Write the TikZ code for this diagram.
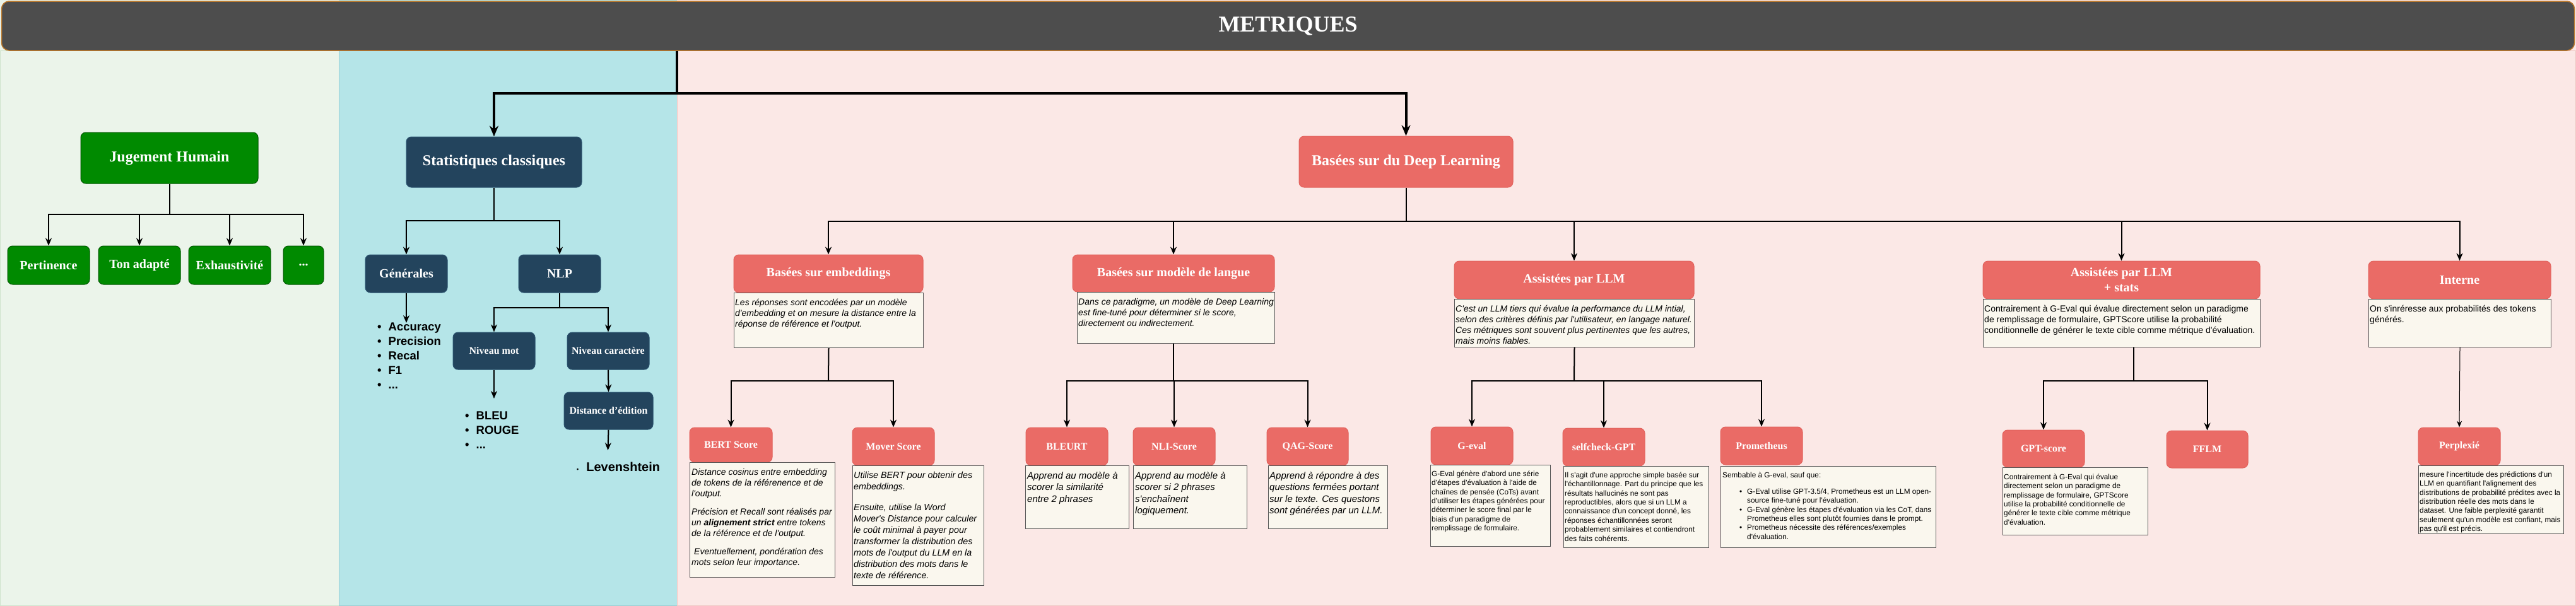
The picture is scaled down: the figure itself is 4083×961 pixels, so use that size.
\documentclass[tikz,border=0pt]{standalone}
\usepackage{fontspec}
\setmainfont{Liberation Serif}
\newfontfamily\arialf{Liberation Sans}
\usetikzlibrary{arrows.meta}
\definecolor{hdrgray}{HTML}{4D4D4D}
\definecolor{hdrborder}{HTML}{B7762B}
\definecolor{gpanel}{HTML}{EBF4EA}
\definecolor{gpanelb}{HTML}{CFE3CC}
\definecolor{cpanel}{HTML}{B5E5E8}
\definecolor{cpanelb}{HTML}{9CCFD3}
\definecolor{ppanel}{HTML}{FBE8E6}
\definecolor{ppanelb}{HTML}{F0C8C4}
\definecolor{gfill}{HTML}{008A00}
\definecolor{gdraw}{HTML}{005700}
\definecolor{bfill}{HTML}{23445D}
\definecolor{bdraw}{HTML}{2C5470}
\definecolor{rfill}{HTML}{EA6B66}
\definecolor{rdraw}{HTML}{E2625D}
\definecolor{descfill}{HTML}{FAF7EE}
\definecolor{descdraw}{HTML}{555555}
\tikzset{
 f36/.style={font=\bfseries\fontsize{36}{42}\selectfont},
 f24/.style={font=\bfseries\fontsize{24}{28}\selectfont},
 f20/.style={font=\bfseries\fontsize{20}{24}\selectfont},
 f16/.style={font=\bfseries\fontsize{16}{19}\selectfont},
 box/.style={rectangle, rounded corners=8pt, inner sep=0pt, text=white, line width=1pt, align=center},
 gbox/.style={box, fill=gfill, draw=gdraw, f20},
 bbox/.style={box, fill=bfill, draw=bdraw, f20},
 rbox/.style={box, fill=rfill, draw=rdraw, f20},
 dbox/.style={rectangle, fill=descfill, draw=descdraw, line width=1pt, inner sep=0pt, anchor=north west},
 dtxt/.style={anchor=north west, align=left, inner sep=0pt, text=black},
 di14/.style={dtxt, font=\arialf\itshape\fontsize{14}{17}\selectfont},
 di145/.style={dtxt, font=\arialf\itshape\fontsize{14.3}{18}\selectfont},
 di15/.style={dtxt, font=\arialf\itshape\fontsize{15}{18.5}\selectfont},
 dr14/.style={dtxt, font=\arialf\fontsize{14}{17}\selectfont},
 dr12/.style={dtxt, font=\arialf\fontsize{11.8}{14.4}\selectfont},
 lst/.style={anchor=base west, inner sep=0pt, text=black, font=\arialf\bfseries\fontsize{18.5}{23}\selectfont},
 conn/.style={line width=2pt, draw=black},
 arr/.style={conn, -{Stealth[length=12pt,width=10pt]}},
 mainconn/.style={line width=4pt, draw=black},
 mainarr/.style={mainconn, -{Stealth[length=17pt,width=14pt]}},
 thinarr/.style={line width=1pt, draw=black, -{Stealth[length=10pt,width=8pt]}}
}
\begin{document}
\begin{tikzpicture}[x=1pt,y=-1pt]
\useasboundingbox (0,0) rectangle (4083,961);
% panels
\fill[gpanel] (0,0) rectangle (537,961);
\fill[cpanel] (537,0) rectangle (1073,961);
\fill[ppanel] (1073,0) rectangle (4083,961);
\draw[gpanelb, line width=1pt] (0.5,80) rectangle (537,960.5);
\draw[cpanelb, line width=1pt] (537,80) rectangle (1073,960.5);
\draw[ppanelb, line width=1pt] (1073,80) rectangle (4082.5,960.5);
% header
\node[rectangle, rounded corners=12pt, fill=hdrgray, draw=hdrborder, line width=1.5pt, text=white, f36, minimum width=4078pt, minimum height=78pt, inner sep=0pt] (hdr) at (2041.5,41) {METRIQUES};

% ---------- Jugement humain
\node[gbox, f24, minimum width=281pt, minimum height=81pt] (jh) at (268.5,250.5) {Jugement Humain};
\node[gbox, minimum width=130pt, minimum height=61pt] (pert) at (77,420.5) {Pertinence};
\node[gbox, minimum width=130pt, minimum height=61pt] (ton) at (221,420.5) {Ton adapté};
\node[gbox, minimum width=130pt, minimum height=61pt] (exh) at (364,420.5) {Exhaustivité};
\node[gbox, minimum width=64pt, minimum height=61pt] (etc) at (481,420.5) {...};
\coordinate (jj) at (268.5,340);
\draw[conn] (jh.south) -- (jj);
\draw[arr] (jj) -| (pert.north);
\draw[arr] (jj) -| (ton.north);
\draw[arr] (jj) -| (exh.north);
\draw[arr] (jj) -| (etc.north);

% ---------- Statistiques classiques
\node[bbox, f24, minimum width=278pt, minimum height=80pt] (stats) at (783,257) {Statistiques classiques};
\node[bbox, minimum width=130pt, minimum height=60pt] (gen) at (644,434) {Générales};
\node[bbox, minimum width=130pt, minimum height=60pt] (nlp) at (887,434) {NLP};
\node[bbox, f16, minimum width=130pt, minimum height=59pt] (nmot) at (783,556.5) {Niveau mot};
\node[bbox, f16, minimum width=130pt, minimum height=59pt] (ncar) at (964,556.5) {Niveau caractère};
\node[bbox, f16, minimum width=141pt, minimum height=59pt] (dist) at (964.5,651.5) {Distance d'édition};
\node[lst] (genl) at (598,524) {\begin{tabular}[t]{@{}l@{\hspace{11pt}}l@{}}\textbullet & Accuracy\\ \textbullet & Precision\\ \textbullet & Recal\\ \textbullet & F1\\ \textbullet & ...\end{tabular}};
\node[lst] (motl) at (737,665.5) {\begin{tabular}[t]{@{}l@{\hspace{11pt}}l@{}}\textbullet & BLEU\\ \textbullet & ROUGE\\ \textbullet & ...\end{tabular}};
\node[lst, font=\arialf\bfseries\fontsize{20}{24}\selectfont] (levl) at (914,747) {{\fontsize{9}{9}\selectfont\textbullet}\hspace{12pt}Levenshtein};
\coordinate (sj) at (783,350);
\coordinate (nj) at (887,488);
\coordinate (genend) at (644,512);
\coordinate (motend) at (783,632);
\coordinate (distend) at (963.5,714);
\draw[conn] (stats.south) -- (sj);
\draw[arr] (sj) -| (gen.north);
\draw[arr] (sj) -| (nlp.north);
\draw[arr] (gen.south) -- (genend);
\draw[conn] (nlp.south) -- (nj);
\draw[arr] (nj) -| (nmot.north);
\draw[arr] (nj) -| (ncar.north);
\draw[arr] (nmot.south) -- (motend);
\draw[arr] (ncar.south) -- (dist.north);
\draw[arr] (dist.south) -- (distend);

% ---------- Deep learning
\node[rbox, f24, minimum width=339pt, minimum height=81pt] (dl) at (2228.5,256.5) {Basées sur du Deep Learning};

% embeddings
\node[rbox, minimum width=300pt, minimum height=60pt] (emb) at (1313,434) {Basées sur embeddings};
\node[dbox, minimum width=300pt, minimum height=87pt] (embd) at (1163,464) {};
\node[di14] (embt) at (1165,472) {\strut Les réponses sont encodées par un modèle\\ d'embedding et on mesure la distance entre la\\ réponse de référence et l'output.};
\node[rbox, f16, minimum width=131pt, minimum height=55pt] (bert) at (1158.5,705.5) {BERT Score};
\node[dbox, minimum width=230pt, minimum height=182pt] (bertd) at (1093,733) {};
\node[di14] (bertt) at (1096,741) {\strut Distance cosinus entre embedding\\ de tokens de la référenence et de\\ l'output.\\[12pt] Précision et Recall sont réalisés par\\ un \textbf{alignement strict} entre tokens\\ de la référence et de l'output.\\[12pt] \hspace*{4pt}Eventuellement, pondération des\\ mots selon leur importance.};
\node[rbox, f16, minimum width=130pt, minimum height=60pt] (mover) at (1416,708) {Mover Score};
\node[dbox, minimum width=208pt, minimum height=190pt] (moverd) at (1351,738) {};
\node[di145] (movert) at (1353,746) {\strut Utilise BERT pour obtenir des\\ embeddings.\\[15pt] Ensuite, utilise la Word\\ Mover's Distance pour calculer\\ le coût minimal à payer pour\\ transformer la distribution des\\ mots de l'output du LLM en la\\ distribution des mots dans le\\ texte de référence.};
\coordinate (embj) at (1313,604);
\draw[conn] (embd.south) -- (embj);
\draw[arr] (embj) -| (bert.north);
\draw[arr] (embj) -| (mover.north);

% modele de langue
\node[rbox, minimum width=320pt, minimum height=59pt] (lang) at (1860,433.5) {Basées sur modèle de langue};
\node[dbox, minimum width=313pt, minimum height=81pt] (langd) at (1707,463) {};
\node[di14] (langt) at (1709,471) {\strut Dans ce paradigme, un modèle de Deep Learning\\ est fine-tuné pour déterminer si le score,\\ directement ou indirectement.};
\node[rbox, f16, minimum width=130pt, minimum height=60pt] (bleurt) at (1691,708) {BLEURT};
\node[dbox, minimum width=164pt, minimum height=100pt] (bleurtd) at (1625,738) {};
\node[di15] (bleurtt) at (1628,746) {\strut Apprend au modèle à\\ scorer la similarité\\ entre 2 phrases};
\node[rbox, f16, minimum width=130pt, minimum height=60pt] (nli) at (1861,708) {NLI-Score};
\node[dbox, minimum width=180pt, minimum height=100pt] (nlid) at (1796,738) {};
\node[di15] (nlit) at (1799,746) {\strut Apprend au modèle à\\ scorer si 2 phrases\\ s'enchaînent\\ logiquement.};
\node[rbox, f16, minimum width=129pt, minimum height=60pt] (qag) at (2072.5,708) {QAG-Score};
\node[dbox, minimum width=189pt, minimum height=100pt] (qagd) at (2010,738) {};
\node[di15] (qagt) at (2012,746) {\strut Apprend à répondre à des\\ questions fermées portant\\ sur le texte. Ces questons\\ sont générées par un LLM.};
\coordinate (langj) at (1860,604);
\draw[conn] (langd.south -| langj) -- (langj);
\draw[arr] (langj) -| (bleurt.north);
\draw[arr] (langj) -| (nli.north);
\draw[arr] (langj) -| (qag.north);

% assistees par LLM
\node[rbox, minimum width=380pt, minimum height=60pt] (llm) at (2495,444) {Assistées par LLM};
\node[dbox, minimum width=380pt, minimum height=76pt] (llmd) at (2305,474) {};
\node[di14] (llmt) at (2307,482) {\strut C'est un LLM tiers qui évalue la performance du LLM intial,\\ selon des critères définis par l'utilisateur, en langage naturel.\\ Ces métriques sont souvent plus pertinentes que les autres,\\ mais moins fiables.};
\node[rbox, f16, minimum width=130pt, minimum height=60pt] (geval) at (2333,707) {G-eval};
\node[dbox, minimum width=190pt, minimum height=129pt] (gevald) at (2267,737) {};
\node[dr12] (gevalt) at (2269,745) {\strut G-Eval génère d'abord une série\\ d'étapes d'évaluation à l'aide de\\ chaînes de pensée (CoTs) avant\\ d'utiliser les étapes générées pour\\ déterminer le score final par le\\ biais d'un paradigme de\\ remplissage de formulaire.};
\node[rbox, f16, minimum width=130pt, minimum height=60pt] (self) at (2542,709) {selfcheck-GPT};
\node[dbox, minimum width=230pt, minimum height=129pt] (selfd) at (2478,739) {};
\node[dr12] (selft) at (2480,747) {\strut Il s'agit d'une approche simple basée sur\\ l'échantillonnage. Part du principe que les\\ résultats hallucinés ne sont pas\\ reproductibles, alors que si un LLM a\\ connaissance d'un concept donné, les\\ réponses échantillonnées seront\\ probablement similaires et contiendront\\ des faits cohérents.};
\node[rbox, f16, minimum width=130pt, minimum height=60pt] (prom) at (2792,707) {Prometheus};
\node[dbox, minimum width=341pt, minimum height=129pt] (promd) at (2727,739) {};
\node[dr12] (promt) at (2730,747) {\strut Sembable à G-eval, sauf que:\\[11.6pt]
\hspace*{39pt}\llap{\textbullet\hspace{8pt}}G-Eval utilise GPT-3.5/4, Prometheus est un LLM open-\\
\hspace*{39pt}source fine-tuné pour l'évaluation.\\
\hspace*{39pt}\llap{\textbullet\hspace{8pt}}G-Eval génère les étapes d'évaluation via les CoT, dans\\
\hspace*{39pt}Prometheus elles sont plutôt fournies dans le prompt.\\
\hspace*{39pt}\llap{\textbullet\hspace{8pt}}Prometheus nécessite des références/exemples\\
\hspace*{39pt}d'évaluation.};
\coordinate (llmj) at (2495,604);
\draw[conn] (llmd.south) -- (llmj);
\draw[arr] (llmj) -| (geval.north);
\draw[arr] (llmj) -| (self.north);
\draw[arr] (llmj) -| (prom.north);

% assistees par LLM + stats
\node[rbox, minimum width=439pt, minimum height=60pt] (s2) at (3362.5,444) {Assistées par LLM\\+ stats};
\node[dbox, minimum width=439pt, minimum height=76pt] (s2d) at (3143,474) {};
\node[dr14] (s2t) at (3145,482) {\strut Contrairement à G-Eval qui évalue directement selon un paradigme\\ de remplissage de formulaire, GPTScore utilise la probabilité\\ conditionnelle de générer le texte cible comme métrique d'évaluation.};
\node[rbox, f16, minimum width=130pt, minimum height=59pt] (gpts) at (3239,711.5) {GPT-score};
\node[dbox, minimum width=230pt, minimum height=107pt] (gptsd) at (3174,741) {};
\node[dr12] (gptst) at (3176,750) {\strut Contrairement à G-Eval qui évalue\\ directement selon un paradigme de\\ remplissage de formulaire, GPTScore\\ utilise la probabilité conditionnelle de\\ générer le texte cible comme métrique\\ d'évaluation.};
\node[rbox, f16, minimum width=129pt, minimum height=59pt] (fflm) at (3498.5,712.5) {FFLM};
\coordinate (s2j) at (3382,604);
\draw[conn] (s2d.south -| s2j) -- (s2j);
\draw[arr] (s2j) -| (gpts.north);
\draw[arr] (s2j) -| (fflm.north);

% interne
\node[rbox, minimum width=289pt, minimum height=60pt] (int) at (3898.5,444) {Interne};
\node[dbox, minimum width=289pt, minimum height=76pt] (intd) at (3754,474) {};
\node[dr14] (intt) at (3756,482) {\strut On s'inréresse aux probabilités des tokens\\ générés.};
\node[rbox, f16, minimum width=130pt, minimum height=60pt] (perp) at (3898,708) {Perplexié};
\node[dbox, minimum width=230pt, minimum height=108pt] (perpd) at (3833,738) {};
\node[dr12] (perpt) at (3835,746) {\strut mesure l'incertitude des prédictions d'un\\ LLM en quantifiant l'alignement des\\ distributions de probabilité prédites avec la\\ distribution réelle des mots dans le\\ dataset. Une faible perplexité garantit\\ seulement qu'un modèle est confiant, mais\\ pas qu'il est précis.};
\draw[thinarr] (intd.south) -- (perp.north);

% deep learning branches
\coordinate (dj) at (2228.5,351);
\draw[conn] (dl.south) -- (dj);
\draw[arr] (dj) -| (emb.north);
\draw[arr] (dj) -| (lang.north);
\draw[arr] (dj) -| (llm.north);
\draw[arr] (dj) -| (s2.north);
\draw[arr] (dj) -| (int.north);

% header connectors
\coordinate (hj) at (1073,148);
\draw[mainconn] (hdr.south -| hj) -- (hj);
\draw[mainarr] (hj) -| (stats.north);
\draw[mainarr] (hj) -| (dl.north);
\end{tikzpicture}
\end{document}
